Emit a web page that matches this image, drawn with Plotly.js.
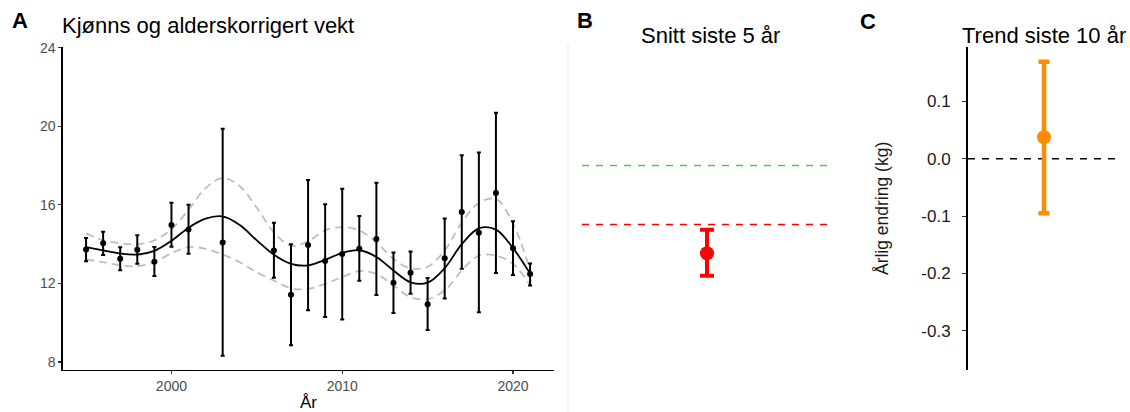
<!DOCTYPE html>
<html>
<head>
<meta charset="utf-8">
<script src="https://cdn.plot.ly/plotly-3.0.1.min.js"></script>
<style>html,body{margin:0;padding:0;background:#fff;}#chart{width:1130px;height:412px;}</style>
</head>
<body>
<div id="chart"></div>
<script>
// ---- Panel A data ----
const years = [1995,1996,1997,1998,1999,2000,2001,2003,2006,2007,2008,2009,2010,2011,2012,2013,2014,2015,2016,2017,2018,2019,2020,2021];
const weight = [13.73,14.04,13.26,13.72,13.11,14.97,14.75,14.09,13.68,11.43,13.96,13.14,13.50,13.77,14.26,12.04,12.55,10.94,13.28,15.64,14.58,16.60,13.79,12.48];
const weightLow = [13.13,13.45,12.67,13.00,12.38,13.87,13.51,8.32,12.29,8.85,10.63,10.29,10.17,12.14,11.41,10.49,11.48,9.63,11.24,12.75,10.53,12.53,12.43,11.89];
const weightHigh = [14.31,14.63,13.84,14.45,13.85,16.11,16.01,19.88,15.09,13.99,17.26,16.03,16.82,15.43,17.13,13.58,13.62,12.28,15.31,18.52,18.66,20.69,15.16,13.02];

const fitYears = [1995,1996,1997,1998,1999,2000,2001,2002,2003,2004,2005,2006,2007,2008,2009,2010,2011,2012,2013,2014,2015,2016,2017,2018,2019,2020,2021];
const fit = [13.85,13.68,13.52,13.47,13.66,14.17,14.84,15.30,15.41,14.97,14.19,13.46,13.00,12.92,13.20,13.56,13.69,13.35,12.66,12.06,12.04,12.78,14.00,14.80,14.74,13.80,12.50];
const fitUpper = [14.55,14.20,14.05,13.99,14.19,14.77,15.75,16.85,17.37,16.95,15.85,14.60,13.92,14.15,14.70,14.87,14.70,14.10,13.25,12.77,12.85,13.68,15.10,16.10,16.30,15.05,12.67];
const fitLower = [13.22,13.08,12.92,12.88,13.08,13.54,13.85,13.76,13.47,13.08,12.57,12.15,11.75,11.72,11.98,12.32,12.63,12.49,11.90,11.30,11.20,11.64,12.66,13.42,13.42,13.00,11.90];

const xTicksA = [2000,2010,2020];
const yTicksA = [8,12,16,20,24];

// ---- Panel B data ----
const bCategory = ["Snitt siste 5 år"];
const bMean = [13.54];
const bLow = [12.39];
const bHigh = [14.73];
const bLevels = [18, 15];
const bLevelColors = ["#4CC94C", "#FF0000"];

// ---- Panel C data ----
const cCategory = ["Trend siste 10 år"];
const cTrend = [0.0375];
const cLow = [-0.095];
const cHigh = [0.169];
const cZero = 0;
const cTickVals = [-0.3,-0.2,-0.1,0.0,0.1];
const cTickText = ["-0.3","-0.2","-0.1","0.0","0.1"];

const FONT = "Liberation Sans, Arial, sans-serif";
const W = 1130, H = 412;
const px = v => v / W;
const py = v => 1 - v / H;
const yDom = [py(369.5), py(47.3)];

const traces = [
  {x: fitYears, y: fitUpper, mode: 'lines', line: {color: '#BEBEBE', width: 1.8, dash: '8px,5px', shape: 'spline'}, xaxis: 'x', yaxis: 'y', hoverinfo: 'skip'},
  {x: fitYears, y: fitLower, mode: 'lines', line: {color: '#BEBEBE', width: 1.8, dash: '8px,5px', shape: 'spline'}, xaxis: 'x', yaxis: 'y', hoverinfo: 'skip'},
  {x: fitYears, y: fit, mode: 'lines', line: {color: '#000', width: 1.8, shape: 'spline'}, xaxis: 'x', yaxis: 'y'},
  {x: years, y: weight, mode: 'markers', marker: {color: '#000', size: 6},
   error_y: {type: 'data', symmetric: false,
             array: weightHigh.map((h, i) => h - weight[i]),
             arrayminus: weight.map((v, i) => v - weightLow[i]),
             color: '#000', thickness: 2, width: 2},
   xaxis: 'x', yaxis: 'y'},
  {x: bCategory, y: bMean, mode: 'markers', marker: {color: '#FF0000', size: 14},
   error_y: {type: 'data', symmetric: false,
             array: bHigh.map((h, i) => h - bMean[i]),
             arrayminus: bMean.map((v, i) => v - bLow[i]),
             color: '#FF0000', thickness: 4, width: 7},
   xaxis: 'x2', yaxis: 'y2'},
  {x: cCategory, y: cTrend, mode: 'markers', marker: {color: '#FF8C00', size: 14},
   error_y: {type: 'data', symmetric: false,
             array: cHigh.map((h, i) => h - cTrend[i]),
             arrayminus: cTrend.map((v, i) => v - cLow[i]),
             color: '#FF8C00', thickness: 4.5, width: 5.5},
   xaxis: 'x3', yaxis: 'y3'}
];

const shapes = bLevels.map((lv, i) => ({
  type: 'line', xref: 'x2 domain', yref: 'y2', x0: 0, x1: 1, y0: lv, y1: lv,
  line: {color: bLevelColors[i], width: 1.4, dash: '7px,7px'}, layer: 'below'
}));
shapes.push({type: 'line', xref: 'x3 domain', yref: 'y3', x0: 0, x1: 1, y0: cZero, y1: cZero,
  line: {color: '#000', width: 1.5, dash: '7px,7px'}, layer: 'below'});
shapes.push({type: 'line', xref: 'paper', yref: 'paper', x0: px(568), x1: px(568), y0: 0, y1: py(43),
  line: {color: '#EBEBEB', width: 1}});

const annotations = [
  {text: '<b>A</b>', x: px(10), y: py(21), xanchor: 'left', yanchor: 'middle', font: {size: 22, color: '#000', family: FONT}},
  {text: 'Kjønns og alderskorrigert vekt', x: px(60), y: py(26), xanchor: 'left', yanchor: 'middle', font: {size: 22, color: '#000', family: FONT}},
  {text: '<b>B</b>', x: px(575), y: py(21), xanchor: 'left', yanchor: 'middle', font: {size: 22, color: '#000', family: FONT}},
  {text: 'Snitt siste 5 år', x: px(710), y: py(36), xanchor: 'center', yanchor: 'middle', font: {size: 22, color: '#000', family: FONT}},
  {text: '<b>C</b>', x: px(858), y: py(22), xanchor: 'left', yanchor: 'middle', font: {size: 22, color: '#000', family: FONT}},
  {text: 'Trend siste 10 år', x: px(1044), y: py(36), xanchor: 'center', yanchor: 'middle', font: {size: 22, color: '#000', family: FONT}}
].map(a => Object.assign({xref: 'paper', yref: 'paper', showarrow: false}, a));

const layout = {
  width: W, height: H,
  margin: {l: 0, r: 0, t: 0, b: 0},
  paper_bgcolor: '#fff', plot_bgcolor: 'rgba(0,0,0,0)',
  showlegend: false,
  font: {family: FONT},
  xaxis: {domain: [px(63), px(554)], range: [1993.65, 2022.4], tickvals: xTicksA,
          showline: true, linecolor: '#000', linewidth: 1.6, ticks: 'outside', ticklen: 3, tickcolor: '#333', tickwidth: 1.2,
          tickfont: {size: 14, color: '#4D4D4D', family: FONT}, showgrid: false, zeroline: false,
          title: {text: 'År', font: {size: 17, color: '#000', family: FONT}, standoff: 3}},
  yaxis: {domain: yDom, range: [7.62, 24.02], tickvals: yTicksA,
          showline: true, linecolor: '#000', linewidth: 1.6, ticks: 'outside', ticklen: 3, tickcolor: '#333', tickwidth: 1.2,
          tickfont: {size: 14, color: '#4D4D4D', family: FONT}, showgrid: false, zeroline: false},
  xaxis2: {domain: [px(582), px(832)], type: 'category', range: [-0.5, 0.5], visible: false, anchor: 'y2'},
  yaxis2: {domain: yDom, range: [7.62, 24.02], visible: false, anchor: 'x2'},
  xaxis3: {domain: [px(968), px(1120)], type: 'category', range: [-0.5, 0.5], visible: false, anchor: 'y3'},
  yaxis3: {domain: yDom, range: [-0.3675, 0.1944], anchor: 'x3', tickvals: cTickVals, ticktext: cTickText,
           showline: true, linecolor: '#000', linewidth: 2, ticks: 'outside', ticklen: 4, tickcolor: '#333', tickwidth: 1.2,
           ticklabelstandoff: 8,
           tickfont: {size: 17, color: '#1A1A1A', family: FONT}, showgrid: false, zeroline: false,
           title: {text: 'Årlig endring (kg)', font: {size: 17.5, color: '#1A1A1A', family: FONT}, standoff: 28}},
  shapes: shapes,
  annotations: annotations
};

Plotly.newPlot('chart', traces, layout, {displayModeBar: false, staticPlot: true});
</script>
</body>
</html>
